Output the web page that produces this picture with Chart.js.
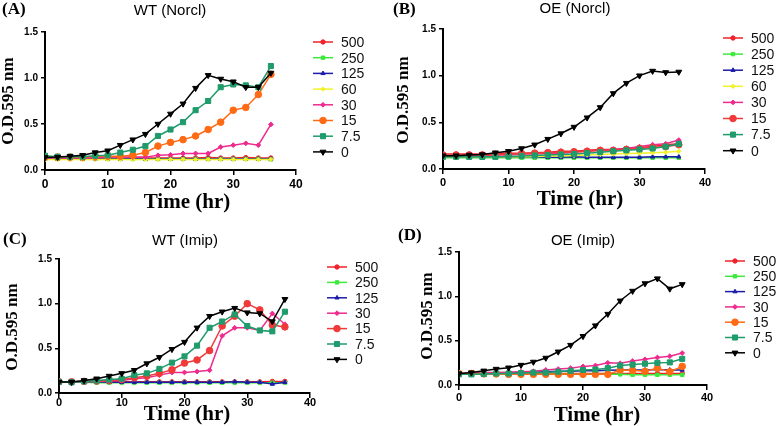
<!DOCTYPE html>
<html>
<head>
<meta charset="utf-8">
<script src="https://cdn.jsdelivr.net/npm/chart.js@4.4.1/dist/chart.umd.min.js"></script>
<style>
  html, body { margin: 0; padding: 0; background: #fff; }
  #wrap { position: relative; width: 777px; height: 426px; overflow: hidden; }
  #wrap canvas { position: absolute; }
</style>
</head>
<body>
<div id="wrap">
  <canvas id="panelA" width="390" height="213" style="left:0;top:0"></canvas>
  <canvas id="panelB" width="387" height="213" style="left:390px;top:0"></canvas>
  <canvas id="panelC" width="390" height="213" style="left:0;top:213px"></canvas>
  <canvas id="panelD" width="387" height="213" style="left:390px;top:213px"></canvas>
</div>
<script>
// Time points (hr) and axis ticks
const hours = [0, 2, 4, 6, 8, 10, 12, 14, 16, 18, 20, 22, 24, 26, 28, 30, 32, 34, 36];
const xTicks = [0, 10, 20, 30, 40];
const yTicks = [0, 0.5, 1.0, 1.5];

// (A) WT (Norcl)
const wtNorcl500 = [0.13, 0.13, 0.13, 0.13, 0.13, 0.13, 0.13, 0.13, 0.13, 0.13, 0.13, 0.13, 0.13, 0.135, 0.13, 0.13, 0.135, 0.13, 0.13];
const wtNorcl250 = [0.12, 0.12, 0.12, 0.12, 0.12, 0.12, 0.12, 0.12, 0.12, 0.12, 0.12, 0.12, 0.12, 0.12, 0.12, 0.12, 0.12, 0.12, 0.115];
const wtNorcl125 = [0.12, 0.12, 0.125, 0.12, 0.12, 0.12, 0.12, 0.125, 0.12, 0.12, 0.12, 0.12, 0.12, 0.12, 0.12, 0.12, 0.12, 0.12, 0.12];
const wtNorcl60 = [0.115, 0.115, 0.115, 0.115, 0.115, 0.115, 0.115, 0.115, 0.115, 0.115, 0.115, 0.115, 0.115, 0.115, 0.115, 0.115, 0.115, 0.115, 0.115];
const wtNorcl30 = [0.13, 0.13, 0.13, 0.13, 0.13, 0.14, 0.14, 0.14, 0.14, 0.16, 0.165, 0.18, 0.18, 0.18, 0.25, 0.27, 0.29, 0.27, 0.495];
const wtNorcl15 = [0.14, 0.14, 0.14, 0.14, 0.15, 0.15, 0.15, 0.16, 0.19, 0.26, 0.30, 0.33, 0.37, 0.44, 0.52, 0.65, 0.68, 0.82, 1.04];
const wtNorcl7_5 = [0.155, 0.145, 0.145, 0.145, 0.155, 0.16, 0.19, 0.22, 0.26, 0.37, 0.44, 0.52, 0.65, 0.75, 0.9, 0.93, 0.92, 0.9, 1.13];
const wtNorcl0 = [0.137, 0.14, 0.15, 0.16, 0.19, 0.21, 0.27, 0.33, 0.39, 0.5, 0.61, 0.72, 0.89, 1.03, 0.99, 0.96, 0.9, 0.9, 1.055];

// (B) OE (Norcl)
const oeNorcl500 = [0.16, 0.16, 0.16, 0.16, 0.165, 0.17, 0.17, 0.175, 0.18, 0.19, 0.19, 0.2, 0.21, 0.21, 0.22, 0.23, 0.24, 0.26, 0.27];
const oeNorcl250 = [0.12, 0.12, 0.12, 0.12, 0.12, 0.12, 0.12, 0.12, 0.12, 0.12, 0.12, 0.12, 0.12, 0.12, 0.12, 0.12, 0.12, 0.12, 0.12];
const oeNorcl125 = [0.13, 0.13, 0.13, 0.13, 0.13, 0.13, 0.13, 0.13, 0.125, 0.125, 0.13, 0.125, 0.125, 0.125, 0.125, 0.125, 0.13, 0.13, 0.13];
const oeNorcl60 = [0.13, 0.13, 0.13, 0.13, 0.13, 0.13, 0.13, 0.135, 0.14, 0.14, 0.145, 0.15, 0.155, 0.16, 0.165, 0.17, 0.175, 0.18, 0.19];
const oeNorcl30 = [0.14, 0.14, 0.14, 0.14, 0.15, 0.15, 0.16, 0.16, 0.17, 0.17, 0.18, 0.19, 0.2, 0.21, 0.22, 0.24, 0.26, 0.27, 0.31];
const oeNorcl15 = [0.15, 0.15, 0.15, 0.15, 0.155, 0.16, 0.165, 0.17, 0.175, 0.18, 0.185, 0.19, 0.2, 0.2, 0.21, 0.22, 0.23, 0.24, 0.26];
const oeNorcl7_5 = [0.13, 0.13, 0.13, 0.13, 0.13, 0.135, 0.14, 0.145, 0.15, 0.155, 0.16, 0.17, 0.18, 0.19, 0.2, 0.21, 0.22, 0.24, 0.27];
const oeNorcl0 = [0.143, 0.143, 0.15, 0.155, 0.175, 0.19, 0.22, 0.26, 0.32, 0.38, 0.45, 0.55, 0.66, 0.81, 0.92, 1.0, 1.05, 1.035, 1.04];

// (C) WT (Imip)
const wtImip500 = [0.125, 0.125, 0.125, 0.125, 0.125, 0.125, 0.125, 0.125, 0.125, 0.125, 0.125, 0.125, 0.125, 0.125, 0.125, 0.125, 0.125, 0.13, 0.13];
const wtImip250 = [0.12, 0.12, 0.12, 0.115, 0.115, 0.115, 0.115, 0.115, 0.115, 0.115, 0.115, 0.115, 0.115, 0.115, 0.115, 0.115, 0.115, 0.115, 0.115];
const wtImip125 = [0.125, 0.125, 0.125, 0.125, 0.12, 0.12, 0.12, 0.12, 0.12, 0.12, 0.12, 0.12, 0.12, 0.12, 0.125, 0.12, 0.12, 0.10, 0.12];
const wtImip30 = [0.125, 0.125, 0.13, 0.13, 0.135, 0.14, 0.16, 0.17, 0.2, 0.23, 0.23, 0.24, 0.255, 0.64, 0.73, 0.73, 0.7, 0.89, 0.77];
const wtImip15 = [0.125, 0.125, 0.13, 0.135, 0.14, 0.15, 0.17, 0.19, 0.22, 0.26, 0.335, 0.37, 0.475, 0.75, 0.86, 1.0, 0.93, 0.76, 0.74];
const wtImip7_5 = [0.125, 0.12, 0.13, 0.14, 0.15, 0.16, 0.2, 0.22, 0.27, 0.34, 0.41, 0.53, 0.73, 0.8, 0.88, 0.75, 0.7, 0.69, 0.91];
const wtImip0 = [0.123, 0.123, 0.14, 0.16, 0.19, 0.22, 0.255, 0.33, 0.4, 0.49, 0.57, 0.73, 0.86, 0.91, 0.95, 0.9, 0.89, 0.8, 1.05];

// (D) OE (Imip)
const oeImip500 = [0.13, 0.13, 0.13, 0.13, 0.13, 0.13, 0.13, 0.13, 0.13, 0.13, 0.13, 0.13, 0.13, 0.13, 0.13, 0.13, 0.13, 0.13, 0.13];
const oeImip250 = [0.12, 0.12, 0.12, 0.12, 0.12, 0.12, 0.12, 0.12, 0.12, 0.12, 0.12, 0.12, 0.12, 0.12, 0.115, 0.115, 0.115, 0.115, 0.115];
const oeImip125 = [0.13, 0.13, 0.13, 0.13, 0.14, 0.14, 0.145, 0.15, 0.155, 0.155, 0.16, 0.16, 0.165, 0.17, 0.17, 0.17, 0.175, 0.17, 0.17];
const oeImip30 = [0.13, 0.135, 0.14, 0.14, 0.145, 0.15, 0.155, 0.17, 0.18, 0.19, 0.21, 0.22, 0.25, 0.245, 0.27, 0.29, 0.31, 0.325, 0.36];
const oeImip15 = [0.13, 0.13, 0.125, 0.125, 0.12, 0.12, 0.12, 0.12, 0.12, 0.12, 0.12, 0.12, 0.12, 0.17, 0.165, 0.155, 0.19, 0.15, 0.21];
const oeImip7_5 = [0.12, 0.12, 0.125, 0.13, 0.13, 0.135, 0.14, 0.14, 0.15, 0.16, 0.17, 0.175, 0.19, 0.22, 0.23, 0.24, 0.25, 0.255, 0.295];
const oeImip0 = [0.128, 0.14, 0.16, 0.18, 0.195, 0.225, 0.26, 0.305, 0.375, 0.45, 0.55, 0.67, 0.8, 0.95, 1.06, 1.145, 1.2, 1.085, 1.135];

// marker / colour per concentration
const styles = {
  '500': { color: '#f0222a', pointStyle: 'circle', radius: 2.2 },
  '250': { color: '#3ee83e', pointStyle: 'rect', radius: 2.4 },
  '125': { color: '#1c1ca8', pointStyle: 'triangle', radius: 2.4 },
  '60':  { color: '#f2f22a', pointStyle: 'rectRot', radius: 2.2 },
  '30':  { color: '#ee2a8e', pointStyle: 'rectRot', radius: 2.4 },
  '15':  { color: '#ff6a14', pointStyle: 'circle', radius: 3.3 },
  '15r': { color: '#f03a3a', pointStyle: 'circle', radius: 3.3 },
  '7.5': { color: '#1f9b6c', pointStyle: 'rect', radius: 3.6 },
  '0':   { color: '#000000', pointStyle: 'triangle', radius: 3.4, rotation: 180 },
};

function series(label, values, key) {
  const s = styles[key || label];
  return {
    label: label,
    data: values.map((v, i) => ({ x: hours[i], y: v })),
    borderColor: s.color,
    backgroundColor: s.color,
    pointBackgroundColor: s.color,
    pointBorderColor: s.color,
    pointStyle: s.pointStyle,
    pointRadius: s.radius,
    pointRotation: s.rotation || 0,
    pointBorderWidth: 1,
    borderWidth: 1.5,
    tension: 0,
  };
}

const panels = [
  {
    id: 'panelA', letter: '(A)', title: 'WT (Norcl)',
    area: { l: 45, t: 32, r: 296, b: 170 }, w: 390, h: 213, xTickPad: 2, xTickSize: 12,
    letterPos: [2, 10], titlePos: [170, 11], yTitlePos: [9, 101], xTitlePos: [187, 203],
    legend: { x: 313, y: 42, gap: 15.7 },
    datasets: [series('500', wtNorcl500), series('250', wtNorcl250), series('125', wtNorcl125), series('60', wtNorcl60),
      series('30', wtNorcl30), series('15', wtNorcl15), series('7.5', wtNorcl7_5), series('0', wtNorcl0)],
  },
  {
    id: 'panelB', letter: '(B)', title: 'OE (Norcl)',
    area: { l: 53, t: 29, r: 315, b: 169 }, w: 387, h: 213, xTickPad: 2, xTickSize: 11,
    letterPos: [3, 10], titlePos: [185, 9], yTitlePos: [14, 100], xTitlePos: [190, 200],
    legend: { x: 333, y: 38, gap: 16.1 },
    datasets: [series('500', oeNorcl500), series('250', oeNorcl250), series('125', oeNorcl125), series('60', oeNorcl60),
      series('30', oeNorcl30), series('15', oeNorcl15, '15r'), series('7.5', oeNorcl7_5), series('0', oeNorcl0)],
  },
  {
    id: 'panelC', letter: '(C)', title: 'WT (Imip)',
    area: { l: 59, t: 46, r: 310, b: 180 }, w: 390, h: 213, xTickPad: -2, xTickSize: 11,
    letterPos: [3, 27], titlePos: [185, 28], yTitlePos: [13, 114], xTitlePos: [187, 202],
    legend: { x: 327, y: 54, gap: 15.4 },
    datasets: [series('500', wtImip500), series('250', wtImip250), series('125', wtImip125),
      series('30', wtImip30), series('15', wtImip15, '15r'), series('7.5', wtImip7_5), series('0', wtImip0)],
  },
  {
    id: 'panelD', letter: '(D)', title: 'OE (Imip)',
    area: { l: 69, t: 39, r: 317, b: 172 }, w: 387, h: 213, xTickPad: 1, xTickSize: 11,
    letterPos: [8, 23], titlePos: [193, 28], yTitlePos: [38, 103], xTitlePos: [207, 203],
    legend: { x: 335, y: 48, gap: 15.3 },
    datasets: [series('500', oeImip500), series('250', oeImip250), series('125', oeImip125),
      series('30', oeImip30), series('15', oeImip15), series('7.5', oeImip7_5), series('0', oeImip0)],
  },
];

// draws panel letter, title, axis titles and the legend
function decorPlugin(p) {
  return {
    id: 'decor',
    afterDraw(chart) {
      const ctx = chart.ctx;
      ctx.save();
      ctx.fillStyle = '#000';
      ctx.textBaseline = 'middle';

      ctx.font = 'bold 17px "Liberation Serif"';
      ctx.textAlign = 'left';
      ctx.fillText(p.letter, p.letterPos[0], p.letterPos[1]);

      ctx.font = '15px "Liberation Sans"';
      ctx.textAlign = 'center';
      ctx.fillText(p.title, p.titlePos[0], p.titlePos[1]);

      ctx.font = 'bold 21px "Liberation Serif"';
      ctx.fillText('Time (hr)', p.xTitlePos[0], p.xTitlePos[1]);

      ctx.save();
      ctx.translate(p.yTitlePos[0], p.yTitlePos[1]);
      ctx.rotate(-Math.PI / 2);
      ctx.font = 'bold 17px "Liberation Serif"';
      ctx.fillText('O.D.595 nm', 0, 0);
      ctx.restore();

      chart.data.datasets.forEach((ds, i) => {
        const x = p.legend.x;
        const y = p.legend.y + i * p.legend.gap;
        ctx.strokeStyle = ds.borderColor;
        ctx.lineWidth = 1.5;
        ctx.beginPath();
        ctx.moveTo(x, y);
        ctx.lineTo(x + 20, y);
        ctx.stroke();
        ctx.fillStyle = ds.pointBackgroundColor;
        ctx.lineWidth = 1;
        Chart.helpers.drawPoint(ctx, {
          pointStyle: ds.pointStyle, rotation: ds.pointRotation, radius: ds.pointRadius, borderWidth: 1,
        }, x + 10, y);
        ctx.fillStyle = '#111';
        ctx.textAlign = 'left';
        ctx.font = '14px "Liberation Sans"';
        ctx.fillText(ds.label, x + 28, y + 1);
      });
      ctx.restore();
    },
  };
}

panels.forEach((p) => {
  const n = p.datasets.length;
  p.datasets.forEach((ds, i) => { ds.order = n - i; });
  new Chart(document.getElementById(p.id).getContext('2d'), {
    type: 'line',
    data: { datasets: p.datasets },
    options: {
      responsive: false,
      animation: false,
      devicePixelRatio: 1,
      layout: { padding: { left: 0, top: p.area.t, right: p.w - p.area.r, bottom: 0 } },
      plugins: { legend: { display: false }, tooltip: { enabled: false } },
      scales: {
        x: {
          type: 'linear', min: 0, max: 40,
          afterBuildTicks: (s) => { s.ticks = xTicks.map((v) => ({ value: v })); },
          afterFit: (s) => { s.height = p.h - p.area.b; },
          grid: { drawOnChartArea: false, tickLength: 5, color: '#000', lineWidth: 1.5 },
          border: { color: '#000', width: 2 },
          ticks: { color: '#000', padding: p.xTickPad, maxRotation: 0, font: { family: 'Liberation Sans', weight: 'bold', size: p.xTickSize } },
        },
        y: {
          min: 0, max: 1.5,
          afterBuildTicks: (s) => { s.ticks = yTicks.map((v) => ({ value: v })); },
          afterFit: (s) => { s.width = p.area.l; },
          grid: { drawOnChartArea: false, tickLength: 4, color: '#000', lineWidth: 1.5 },
          border: { color: '#000', width: 2 },
          ticks: { color: '#000', padding: 3, callback: (v) => v.toFixed(1), font: { family: 'Liberation Sans', weight: 'bold', size: 10 } },
        },
      },
    },
    plugins: [decorPlugin(p)],
  });
});
</script>
</body>
</html>
